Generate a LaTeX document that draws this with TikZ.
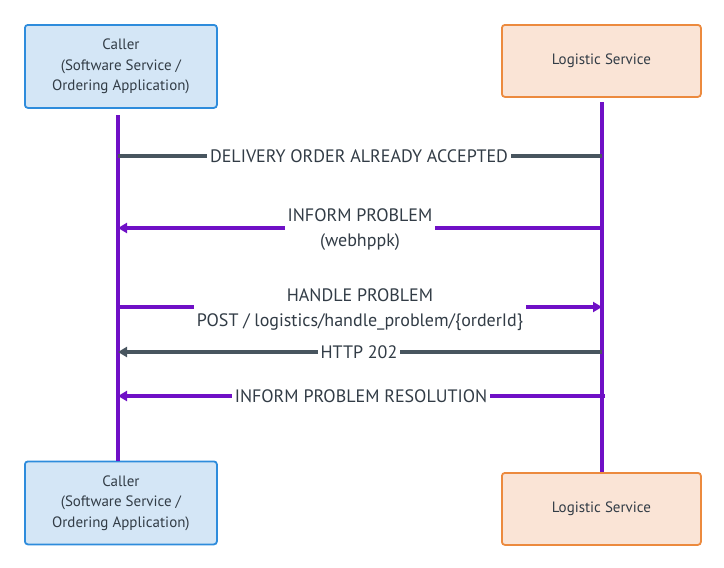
\documentclass[tikz,border=0pt]{standalone}
\usepackage{fontspec}
\setmainfont{PT Sans}
\usetikzlibrary{arrows.meta}
\definecolor{lifepurple}{HTML}{6F10C6}
\definecolor{msggray}{HTML}{48555F}
\definecolor{txtgray}{HTML}{323C46}
\definecolor{bluefill}{HTML}{D4E6F6}
\definecolor{blueline}{HTML}{2E8CDC}
\definecolor{orfill}{HTML}{FAE4D6}
\definecolor{orline}{HTML}{EC8A3E}
\tikzset{
  actorblue/.style={draw=blueline, fill=bluefill, line width=1.8pt, rounded corners=3pt,
    minimum width=192pt, minimum height=83pt, align=center, text=txtgray,
    font=\fontsize{15}{20.5}\selectfont},
  actororange/.style={draw=orline, fill=orfill, line width=1.8pt, rounded corners=3pt,
    minimum width=199pt, minimum height=72pt, align=center, text=txtgray,
    font=\fontsize{15}{20.5}\selectfont},
  lifeline/.style={draw=lifepurple, line width=3.5pt},
  msgpurple/.style={draw=lifepurple, line width=3.5pt},
  msggrey/.style={draw=msggray, line width=3.8pt},
  tip/.style={-{Triangle[length=9pt,width=10pt]}},
  msglabel/.style={fill=white, text=txtgray, align=center, inner xsep=3pt, inner ysep=1pt,
    font=\fontsize{18}{25}\selectfont}
}
\begin{document}
\begin{tikzpicture}[x=1pt,y=-1pt]
\useasboundingbox (0,0) rectangle (724,568);
% actors
\node[actorblue, anchor=north west] (ct) at (24,24) {Caller\\(Software Service /\\Ordering Application)};
\node[actororange, anchor=north west] (lt) at (501,24) {Logistic Service};
\node[actorblue, anchor=north west] (cb) at (24,460.5) {Caller\\(Software Service /\\Ordering Application)};
\node[actororange, anchor=north west] (lb) at (501,472) {Logistic Service};
% lifelines
\coordinate (c0) at (118,115);
\coordinate (l0) at (602,102);
\draw[lifeline] (c0) -- (c0 |- cb.north);
\draw[lifeline] (l0) -- (l0 |- lb.north);
% message points
\coordinate (c1) at (118,156); \coordinate (l1) at (602,156);
\coordinate (c2) at (118,228); \coordinate (l2) at (603,228);
\coordinate (c3) at (118,307); \coordinate (l3) at (602,307);
\coordinate (c4) at (118,352); \coordinate (l4) at (602,352);
\coordinate (c5) at (118,396); \coordinate (l5) at (605,396);
% messages
\draw[msggrey] (l1) -- (c1);
\node[msglabel] (m1) at (359,156) {DELIVERY ORDER ALREADY ACCEPTED};
\draw[msgpurple, tip] (l2) -- (c2);
\node[msglabel] (m2) at (360,230) {INFORM PROBLEM\\(webhppk)};
\draw[msgpurple, tip] (c3) -- (l3);
\node[msglabel] (m3) at (360,310) {HANDLE PROBLEM\\POST / logistics/handle\_problem/\{orderId\}};
\draw[msggrey, tip] (l4) -- (c4);
\node[msglabel] (m4) at (359,352) {HTTP 202};
\draw[msgpurple, tip] (l5) -- (c5);
\node[msglabel] (m5) at (361,396) {INFORM PROBLEM RESOLUTION};
\end{tikzpicture}
\end{document}
